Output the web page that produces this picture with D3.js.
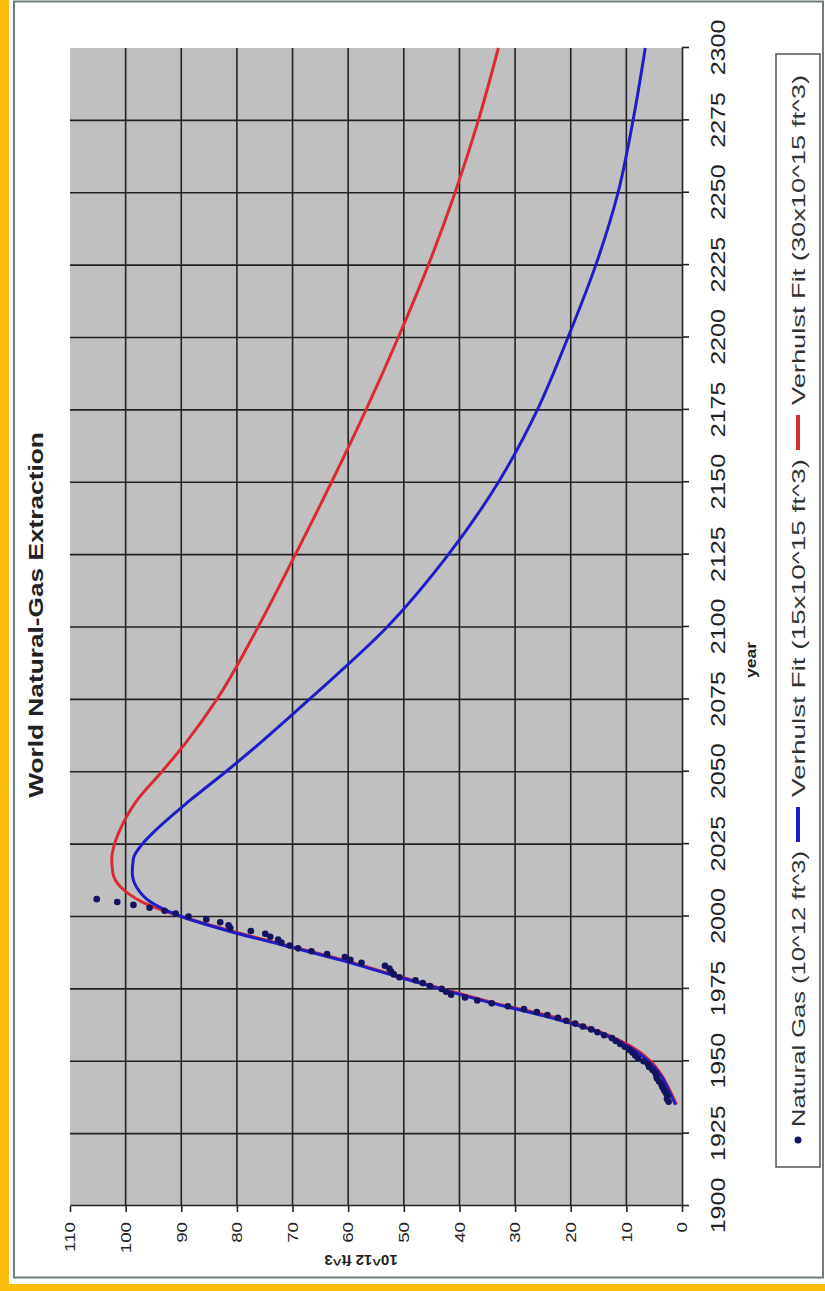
<!DOCTYPE html>
<html>
<head>
<meta charset="utf-8">
<script src="https://cdn.jsdelivr.net/npm/d3@7"></script>
<style>
  body { margin: 0; background: #fff; }
  text { font-family: "Liberation Sans", Arial, sans-serif; }
</style>
</head>
<body>
<script>
const pageW = 825;
const pageH = 1291;

// observed extraction, 10^12 ft^3
const gasYears = [1936, 1937, 1938, 1939, 1940, 1941, 1942, 1943, 1944, 1945, 1946, 1947, 1948, 1949,
  1950, 1951, 1952, 1953, 1954, 1955, 1956, 1957, 1958, 1959, 1960, 1961, 1962, 1963, 1964, 1965,
  1966, 1967, 1968, 1969, 1970, 1971, 1972, 1973, 1974, 1975, 1976, 1977, 1978, 1979, 1980, 1981,
  1982, 1983, 1984, 1985, 1986, 1987, 1988, 1989, 1990, 1991, 1992, 1993, 1994, 1995, 1996, 1997,
  1998, 1999, 2000, 2001, 2002, 2003, 2004, 2005, 2006];
const gasValues = [2.4, 2.7, 2.6, 2.9, 3.2, 3.5, 3.7, 4.1, 4.5, 4.6, 4.8, 5.3, 5.9, 6.1,
  6.9, 7.9, 8.4, 8.9, 9.5, 10.3, 11.1, 11.9, 12.6, 14.0, 15.2, 16.3, 17.8, 19.2, 20.8, 22.3,
  24.2, 26.1, 28.4, 31.3, 34.2, 36.8, 39.0, 41.5, 42.4, 43.2, 45.3, 46.6, 47.9, 50.8, 51.8, 52.3,
  52.6, 53.4, 57.6, 59.6, 60.6, 63.8, 66.6, 69.0, 70.5, 72.0, 72.6, 74.0, 74.9, 77.5, 81.2, 81.5,
  83.0, 85.5, 88.7, 91.0, 93.0, 95.7, 98.6, 101.5, 105.2];

// Verhulst fits
const fitYears = [1935, 1940, 1945, 1950, 1955, 1960, 1965, 1970, 1975, 1980, 1985, 1990, 1995,
  2000, 2005, 2010, 2015, 2020, 2025, 2030, 2040, 2050, 2060, 2075, 2100, 2125, 2150, 2175,
  2200, 2225, 2250, 2275, 2300];
const fit15 = [1.2, 2.4, 3.8, 6.0, 9.5, 15, 23.5, 34, 43.5, 52.5, 61.5, 71.5, 81.5,
  90, 95.5, 98, 98.8, 98.6, 97, 94.5, 88.5, 82, 75.8, 67, 53, 42, 33, 26,
  20.5, 15.5, 11.5, 8.8, 6.6];
const fit30 = [1.0, 2.2, 3.6, 5.6, 9.0, 14.5, 22.5, 33.5, 43, 52, 61, 71, 81,
  90, 97, 100.8, 102.3, 102.5, 102, 101, 98, 93.5, 89.2, 83.6, 76.2, 69.5, 63, 56.8,
  51, 45.6, 40.8, 36.6, 33];

const yearTicks = [1900, 1925, 1950, 1975, 2000, 2025, 2050, 2075, 2100, 2125, 2150, 2175,
  2200, 2225, 2250, 2275, 2300];
const valueTicks = [0, 10, 20, 30, 40, 50, 60, 70, 80, 90, 100, 110];

const legendLabels = ["Natural Gas (10^12 ft^3)", "Verhulst Fit (15x10^15 ft^3)",
  "Verhulst Fit (30x10^15 ft^3)"];

// picture is stretched along the long side
const k = 1.25;
function stretch(sel) {
  sel.each(function () {
    const w = this.getComputedTextLength();
    d3.select(this).attr("textLength", w * k).attr("lengthAdjust", "spacingAndGlyphs");
  });
}

const svg = d3.select("body").append("svg")
  .attr("width", pageW)
  .attr("height", pageH);

// page frame
svg.append("rect").attr("x", 0).attr("y", 0).attr("width", 9).attr("height", pageH).attr("fill", "#fbbc0a");
svg.append("rect").attr("x", 0).attr("y", 1284).attr("width", pageW).attr("height", 7).attr("fill", "#fbbc0a");
svg.append("rect").attr("x", 14).attr("y", 1.5).attr("width", 809).attr("height", 1276)
  .attr("fill", "none").attr("stroke", "#6f7f77").attr("stroke-width", 2);

// chart drawn lying on its side: u along years, v along values
const g = svg.append("g").attr("transform", `translate(0,${pageH}) rotate(-90)`);

const x = d3.scaleLinear().domain([1900, 2300]).range([85, 1243]);
const y = d3.scaleLinear().domain([0, 110]).range([682, 70]);

g.append("rect")
  .attr("x", x(1900)).attr("y", y(110))
  .attr("width", x(2300) - x(1900)).attr("height", y(0) - y(110))
  .attr("fill", "#c0c0c0");

g.append("g").selectAll("line")
  .data(yearTicks.slice(1, -1))
  .join("line")
  .attr("x1", (d) => x(d)).attr("x2", (d) => x(d))
  .attr("y1", y(0)).attr("y2", y(110))
  .attr("stroke", "#222").attr("stroke-width", 1.6);

g.append("g").selectAll("line")
  .data(valueTicks.slice(1, -1))
  .join("line")
  .attr("y1", (d) => y(d)).attr("y2", (d) => y(d))
  .attr("x1", x(1900)).attr("x2", x(2300))
  .attr("stroke", "#222").attr("stroke-width", 1.6);

const xAxis = g.append("g")
  .attr("transform", `translate(0,${y(0)})`)
  .call(d3.axisBottom(x).tickValues(yearTicks).tickFormat(d3.format("d"))
    .tickSize(7).tickSizeOuter(0).tickPadding(22));
xAxis.selectAll("text").attr("font-size", 20).attr("fill", "#222").call(stretch);

const yAxis = g.append("g")
  .attr("transform", `translate(${x(1900)},0)`)
  .call(d3.axisLeft(y).tickValues(valueTicks).tickSize(6).tickSizeOuter(0).tickPadding(10));
yAxis.selectAll("text").attr("font-size", 15).attr("fill", "#222").call(stretch);

g.selectAll(".domain, .tick line").attr("stroke", "#222").attr("stroke-width", 1.6);

// fit curves
const line = d3.line().curve(d3.curveMonotoneX);
g.append("path")
  .attr("d", line(fitYears.map((d, i) => [x(d), y(fit30[i])])))
  .attr("fill", "none").attr("stroke", "#dc2a32").attr("stroke-width", 3);
g.append("path")
  .attr("d", line(fitYears.map((d, i) => [x(d), y(fit15[i])])))
  .attr("fill", "none").attr("stroke", "#1e1ec8").attr("stroke-width", 3);

g.append("g").selectAll("circle")
  .data(gasYears)
  .join("circle")
  .attr("cx", (d) => x(d))
  .attr("cy", (d, i) => y(gasValues[i]))
  .attr("r", 3.3)
  .attr("fill", "#14145e");

// titles
g.append("text")
  .attr("x", 676).attr("y", 43)
  .attr("text-anchor", "middle")
  .attr("font-size", 21).attr("font-weight", "bold").attr("fill", "#222")
  .text("World Natural-Gas Extraction")
  .call(stretch);

g.append("text")
  .attr("x", 631).attr("y", 756)
  .attr("text-anchor", "middle")
  .attr("font-size", 14).attr("font-weight", "bold").attr("fill", "#222")
  .text("year")
  .call(stretch);

g.append("text")
  .attr("transform", `translate(36,${(y(0) + y(110)) / 2 - 15}) rotate(-90)`)
  .attr("text-anchor", "middle")
  .attr("font-size", 15).attr("font-weight", "bold").attr("fill", "#222")
  .text("10^12 ft^3");

// legend
const legend = g.append("g");
legend.append("rect")
  .attr("x", 124).attr("width", 1113)
  .attr("y", 776).attr("height", 44)
  .attr("fill", "#fff").attr("stroke", "#555").attr("stroke-width", 1.5);
const ly = 798;
const textLengths = [276, 338, 330];
const colors = [null, "#1e1ec8", "#dc2a32"];
let u = 151;
legend.append("circle").attr("cx", u).attr("cy", ly).attr("r", 3.5).attr("fill", "#14145e");
u += 13;
legendLabels.forEach((label, i) => {
  if (i > 0) {
    legend.append("line")
      .attr("x1", u).attr("x2", u + 35)
      .attr("y1", ly).attr("y2", ly)
      .attr("stroke", colors[i]).attr("stroke-width", 4);
    u += 45;
  }
  legend.append("text")
    .attr("x", u).attr("y", ly + 7)
    .attr("font-size", 19).attr("fill", "#333")
    .attr("textLength", textLengths[i]).attr("lengthAdjust", "spacingAndGlyphs")
    .text(label);
  u += textLengths[i] + 9;
});
</script>
</body>
</html>
